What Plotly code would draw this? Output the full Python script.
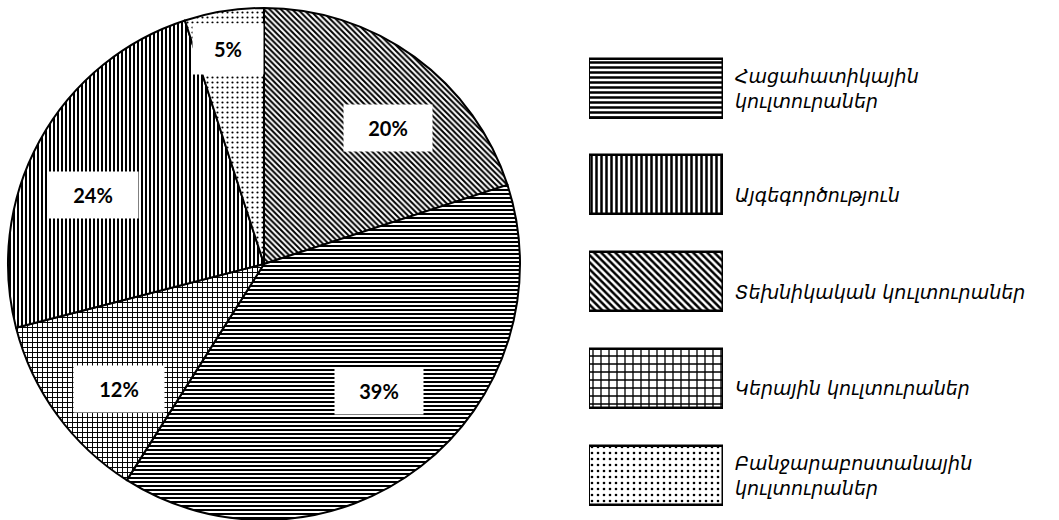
import math
import plotly.graph_objects as go

# ---- data ----
slice_names = ["Տեխնիկական կուլտուրաներ", "Հացահատիկային կուլտուրաներ", "Կերային կուլտուրաներ",
               "Այգեգործություն", "Բանջարաբոստանային կուլտուրաներ"]
slice_values = [20, 39, 12, 24, 5]
slice_text = ["20%", "39%", "12%", "24%", "5%"]

legend_labels = ["Հացահատիկային<br>կուլտուրաներ", "Այգեգործություն", "Տեխնիկական կուլտուրաներ",
                 "Կերային կուլտուրաներ", "Բանջարաբոստանային<br>կուլտուրաներ"]
legend_keys = ["g", "h", "t", "f", "m"]
legend_dummy = [1, 1, 1, 1, 1]

# ---- styles ----
W, H = 1059, 520
pat_by_slice = ["\\", "-", "+", "|", "."]
size_by_slice = [4, 4, 5, 4, 5]
sol_by_slice = [0.5, 0.5, 0.35, 0.5, 0.15]
legend_pat = ["-", "|", "\\", "+", "."]
legend_size = [5, 5, 5, 8, 6]
legend_sol = [0.5, 0.5, 0.5, 0.3, 0.15]
label_frac = [0.59, 0.47, 0.39, 0.42, 0.47]
label_rad = [0.72, 0.67, 0.75, 0.72, 0.85]
label_w = [86, 86, 88, 88, 68]
label_h = [44, 44, 44, 44, 48]

cx, cy, R = 264, 264, 256

fig = go.Figure()
fig.add_trace(go.Pie(
    labels=slice_names, values=slice_values, sort=False, direction="clockwise", rotation=0,
    textinfo="none", hoverinfo="label+percent", showlegend=False,
    domain=dict(x=[(cx - R) / W, (cx + R) / W], y=[1 - (cy + R) / H, 1 - (cy - R) / H]),
    marker=dict(colors=["white"] * 5, line=dict(color="black", width=2),
                pattern=dict(shape=pat_by_slice, fgcolor="black", bgcolor="white",
                             size=size_by_slice, solidity=sol_by_slice, fillmode="replace")),
))

fig.add_trace(go.Bar(
    x=legend_dummy, y=legend_keys, orientation="h", xaxis="x2", yaxis="y2", width=0.61,
    showlegend=False, hoverinfo="skip",
    marker=dict(color="white", line=dict(color="black", width=2.5),
                pattern=dict(shape=legend_pat, fgcolor="black", bgcolor="white",
                             size=legend_size, solidity=legend_sol, fillmode="replace")),
))

annotations = []
total = sum(slice_values)
start = 0.0
for i, v in enumerate(slice_values):
    span = 360.0 * v / total
    ang = math.radians(start + span * label_frac[i])
    r = R * label_rad[i]
    px = cx + r * math.sin(ang)
    py = cy - r * math.cos(ang)
    annotations.append(dict(
        x=px / W, y=1 - py / H, xref="paper", yref="paper", text="<b>%s</b>" % slice_text[i],
        showarrow=False, bgcolor="white", width=label_w[i], height=label_h[i],
        font=dict(family="Lato", size=20, color="black"), xanchor="center", yanchor="middle"))
    start += span

for i, lab in enumerate(legend_labels):
    two = "<br>" in lab
    annotations.append(dict(
        x=733 / W, y=legend_keys[i], xref="paper", yref="y2", text=lab,
        showarrow=False, xanchor="left", yanchor="middle", align="left",
        yshift=0 if two else -10,
        font=dict(family="DejaVu Sans", size=19, color="black", style="italic")))

fig.update_layout(
    width=W, height=H, margin=dict(l=0, r=0, t=0, b=0),
    paper_bgcolor="white", plot_bgcolor="white",
    xaxis2=dict(domain=[589 / W, 723 / W], range=[0, 1], visible=False, fixedrange=True),
    yaxis2=dict(domain=[0, 1], range=[4.465, -0.91], visible=False, type="category",
                categoryorder="array", categoryarray=legend_keys, fixedrange=True),
    annotations=annotations,
    bargap=0,
)

fig.write_html("out.html")
